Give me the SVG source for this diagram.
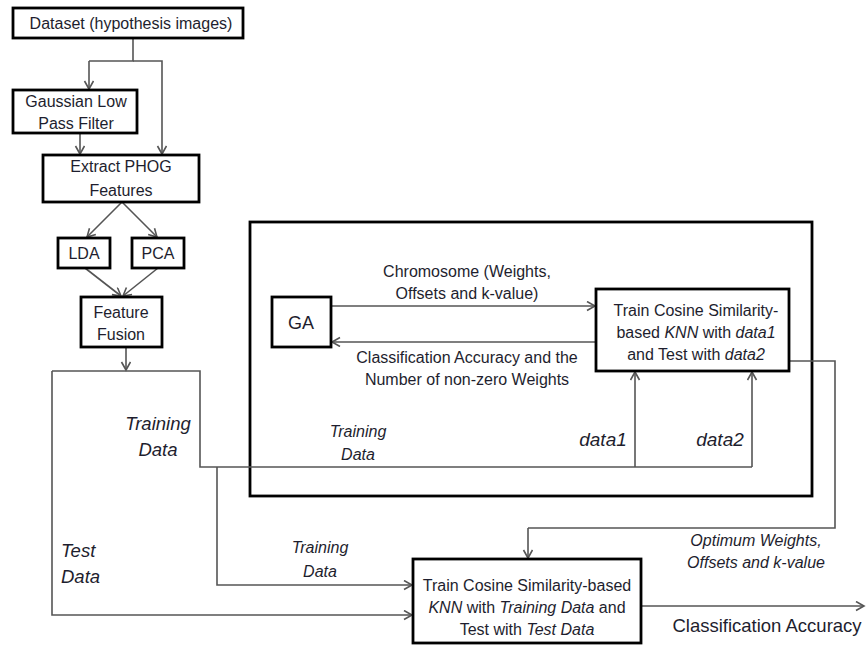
<svg xmlns="http://www.w3.org/2000/svg" width="866" height="645" viewBox="0 0 866 645">
<style>
.box{fill:#fff;stroke:#000;stroke-width:2.8}
.frame{fill:none;stroke:#000;stroke-width:2.8}
.c{fill:none;stroke:#555;stroke-width:1.6}
.ca{fill:none;stroke:#555;stroke-width:1.6;marker-end:url(#ah)}
text{font-family:"Liberation Sans",Arial,sans-serif;font-size:16px;fill:#1e1e2e;text-anchor:middle}
.i{font-style:italic}
.big{font-size:18.5px}
.d{font-size:19px}
.sm{font-size:16px}
.ga{font-size:18px}
.ca2{font-size:18.5px}
.l{text-anchor:start}
</style>
<defs>
<marker id="ah" markerWidth="12" markerHeight="12" refX="9" refY="5" orient="auto" markerUnits="userSpaceOnUse">
<path d="M1,0.5 L9,5 L1,9.5" fill="none" stroke="#555" stroke-width="1.6"/>
</marker>
</defs>
<rect class="frame" x="250" y="222" width="562" height="274"/>
<g id="connectors">
<path class="c" d="M133,38 V61 H89"/>
<path class="ca" d="M89,61 V89"/>
<path class="ca" d="M133,61 H162 V154"/>
<path class="ca" d="M80,133 V154"/>
<path class="ca" d="M122,202 L87,237"/>
<path class="ca" d="M122,202 L157,237"/>
<path class="ca" d="M85,268 L121,296"/>
<path class="ca" d="M158,268 L123,296"/>
<path class="ca" d="M126,347 V370"/>
<path class="c" d="M52,371 H200 V467 H752"/>
<path class="ca" d="M752,467 V372"/>
<path class="ca" d="M635,467 V372"/>
<path class="ca" d="M52,371 V615 H412"/>
<path class="ca" d="M217,467 V585 H412"/>
<path class="ca" d="M331,306 H595"/>
<path class="ca" d="M596,342 H332"/>
<path class="c" d="M789,361 H835 V528 H528"/>
<path class="ca" d="M528,528 V558"/>
<path class="ca" d="M641,606 H864"/>
</g>
<g id="dataset">
<rect class="box" x="13" y="8" width="230" height="30"/>
<text x="131" y="29">Dataset (hypothesis images)</text>
</g>
<g id="gaussian">
<rect class="box" x="13" y="90" width="124" height="43"/>
<text x="76" y="107">Gaussian Low</text>
<text x="76" y="129">Pass Filter</text>
</g>
<g id="phog">
<rect class="box" x="43" y="155" width="156" height="47"/>
<text x="121" y="172">Extract PHOG</text>
<text x="121" y="196">Features</text>
</g>
<g id="lda">
<rect class="box" x="58" y="238" width="52" height="30"/>
<text x="84" y="259">LDA</text>
</g>
<g id="pca">
<rect class="box" x="132" y="238" width="52" height="30"/>
<text x="158" y="259">PCA</text>
</g>
<g id="fusion">
<rect class="box" x="81" y="297" width="81" height="50"/>
<text x="121" y="318">Feature</text>
<text x="121" y="340">Fusion</text>
</g>
<g id="ga">
<rect class="box" x="272" y="297" width="59" height="50"/>
<text x="301" y="329" class="ga">GA</text>
</g>
<g id="train-inner">
<rect class="box" x="596" y="289" width="193" height="82"/>
<text x="696" y="316">Train Cosine Similarity-</text>
<text x="696" y="338">based <tspan class="i">KNN</tspan> with <tspan class="i">data1</tspan></text>
<text x="696" y="360">and Test with <tspan class="i">data2</tspan></text>
</g>
<g id="train-final">
<rect class="box" x="413" y="559" width="228" height="84"/>
<text x="527" y="591">Train Cosine Similarity-based</text>
<text x="527" y="613"><tspan class="i">KNN</tspan> with  <tspan class="i">Training Data</tspan> and</text>
<text x="527" y="635">Test with  <tspan class="i">Test Data</tspan></text>
</g>
<g id="labels">
<text x="467" y="277">Chromosome (Weights,</text>
<text x="467" y="299">Offsets and k-value)</text>
<text x="467" y="363">Classification Accuracy and the</text>
<text x="467" y="385">Number of non-zero Weights</text>
<text x="158" y="430" class="i big">Training</text>
<text x="158" y="456" class="i big">Data</text>
<text x="358" y="437" class="i sm">Training</text>
<text x="358" y="460" class="i sm">Data</text>
<text x="320" y="553" class="i sm">Training</text>
<text x="320" y="577" class="i sm">Data</text>
<text x="61" y="557" class="i big l">Test</text>
<text x="61" y="583" class="i big l">Data</text>
<text x="603" y="446" class="i d">data1</text>
<text x="720" y="446" class="i d">data2</text>
<text x="756" y="546" class="i">Optimum Weights,</text>
<text x="756" y="568" class="i">Offsets and k-value</text>
<text x="767" y="632" class="ca2">Classification Accuracy</text>
</g>
</svg>
